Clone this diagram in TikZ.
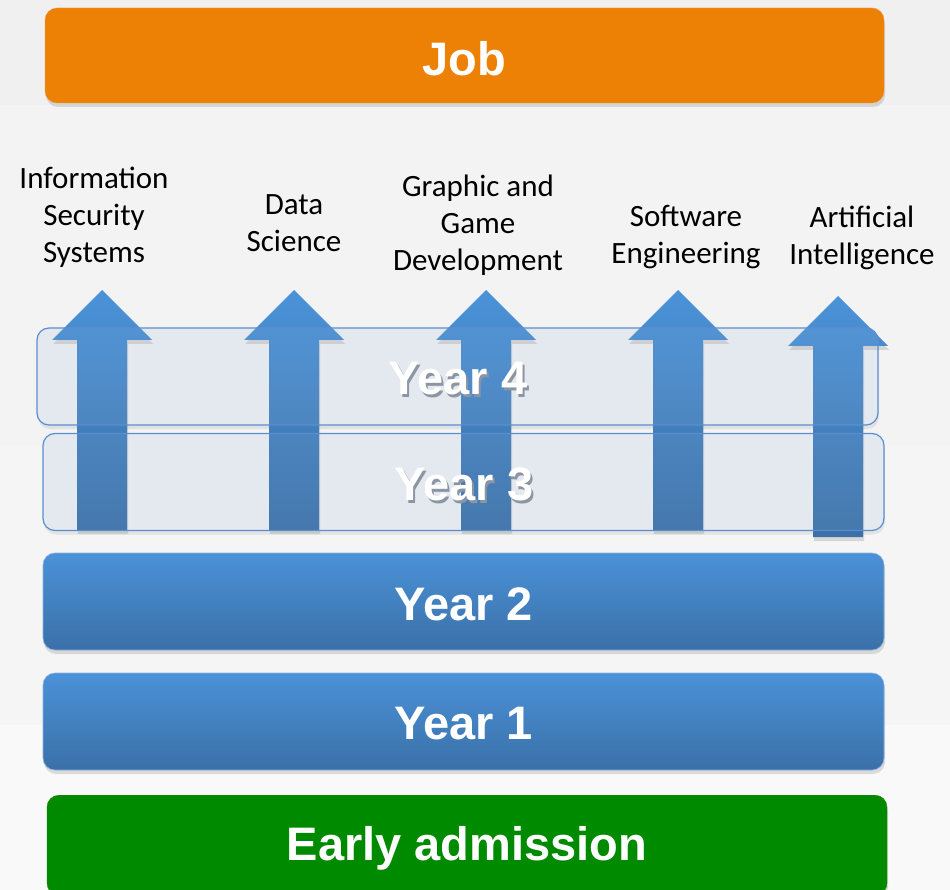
\documentclass[tikz,border=0pt]{standalone}
\usepackage{fontspec}
\setmainfont{Liberation Sans}
\newfontfamily\labfont{Carlito}
\usetikzlibrary{shadows}
\definecolor{joborange}{HTML}{EC8106}
\definecolor{blueT}{HTML}{4B92D8}
\definecolor{blueB}{HTML}{3A70A8}
\definecolor{egreen}{HTML}{008A00}
\definecolor{paleBox}{HTML}{E3E8EE}
\definecolor{boxEdge}{HTML}{5A8FCF}
\definecolor{txtShadow}{HTML}{8C96A3}
\definecolor{bgA}{HTML}{F0F0F0}
\definecolor{bgB}{HTML}{F3F3F3}
\definecolor{bgC}{HTML}{F5F5F5}
\definecolor{bgD}{HTML}{F9F9F9}
\newcommand\shadowed[1]{\makebox[0pt][l]{\kern2pt\raisebox{-3pt}{\color{txtShadow}#1}}#1}
\begin{document}
\begin{tikzpicture}[x=1pt,y=-1pt,
  bigtext/.style={font=\bfseries\fontsize{47}{56}\selectfont},
  stage/.style={rounded corners=12pt, minimum width=841pt, minimum height=97pt, inner sep=0pt, bigtext, text=white,
     drop shadow={shadow xshift=1pt, shadow yshift=-4pt, opacity=0.25}},
  bluestage/.style={stage, top color=blueT, bottom color=blueB, draw=boxEdge!70, line width=0.6pt},
  palefill/.style={rounded corners=12pt, minimum width=841pt, minimum height=97pt, inner sep=0pt,
     fill=paleBox, drop shadow={shadow xshift=1pt, shadow yshift=-4pt, opacity=0.15}},
  paleedge/.style={rounded corners=12pt, minimum width=841pt, minimum height=97pt, inner sep=0pt,
     fill=white, fill opacity=0.06, draw=boxEdge, line width=1.2pt, draw opacity=1},
  yeartext/.style={bigtext, text=white},
  arr/.style={top color=blueT, bottom color=blueB, drop shadow={shadow xshift=1pt, shadow yshift=-4pt, opacity=0.25}},
  lab/.style={font=\labfont\fontsize{31}{37}\selectfont, align=center, text=black, inner sep=0pt}]
\useasboundingbox (0,0) rectangle (950,890);
\clip (0,0) rectangle (950,890);
% background bands
\fill[bgA] (0,0) rectangle (950,105);
\fill[bgB] (0,105) rectangle (950,445);
\fill[bgC] (0,445) rectangle (950,725);
\fill[bgD] (0,725) rectangle (950,890);

% job
\node[stage, fill=joborange, draw=joborange!80!white, minimum width=839pt, minimum height=95pt] (job) at (464.5,55.5) {};
\node[yeartext] (jobt) at (464,59) {Job};

% labels
\node[lab] (iss) at (94,217) {Information\\Security\\Systems};
\node[lab] (ds) at (294,223.5) {Data\\Science};
\node[lab] (ggd) at (478,225) {Graphic and\\Game\\Development};
\node[lab] (se) at (686,237.5) {Software\\Engineering};
\node[lab] (ai) at (862,237.5) {Artificial\\Intelligence};

% year 4 and 3 backgrounds
\node[palefill] (y4) at (457.5,376.5) {};
\node[palefill] (y3) at (463.5,482) {};

% arrows: centre x, tip y, head base y, bottom y
\newcommand\specarrow[4]{%
  \path[arr] ({#1-50},#3) -- (#1,#2) -- ({#1+50},#3) -- ({#1+25},#3) -- ({#1+25},#4)
     -- ({#1-25},#4) -- ({#1-25},#3) -- cycle;}
\specarrow{102}{290}{340}{530}
\specarrow{294}{290}{340}{530}
\specarrow{486}{290}{340}{530}
\specarrow{678}{290}{340}{530}
\specarrow{838}{296}{346}{537}

% year 4 and 3 edges and text
\node[paleedge] (y4e) at (y4.center) {};
\node[paleedge] (y3e) at (y3.center) {};
\node[yeartext] (y4t) at (458,380) {\shadowed{Year 4}};
\node[yeartext] (y3t) at (464,485.5) {\shadowed{Year 3}};

% year 2, 1
\node[bluestage] (y2) at (463.5,601.5) {};
\node[yeartext] (y2t) at (463.5,604) {Year 2};
\node[bluestage] (y1) at (463.5,721.5) {};
\node[yeartext] (y1t) at (463.5,724) {Year 1};

% early admission
\node[stage, fill=egreen, draw=egreen!70!olive, minimum width=840pt, minimum height=100pt, anchor=north] (ea) at (467,795) {};
\node[yeartext] (eat) at (467,848) {Early admission};
\end{tikzpicture}
\end{document}
